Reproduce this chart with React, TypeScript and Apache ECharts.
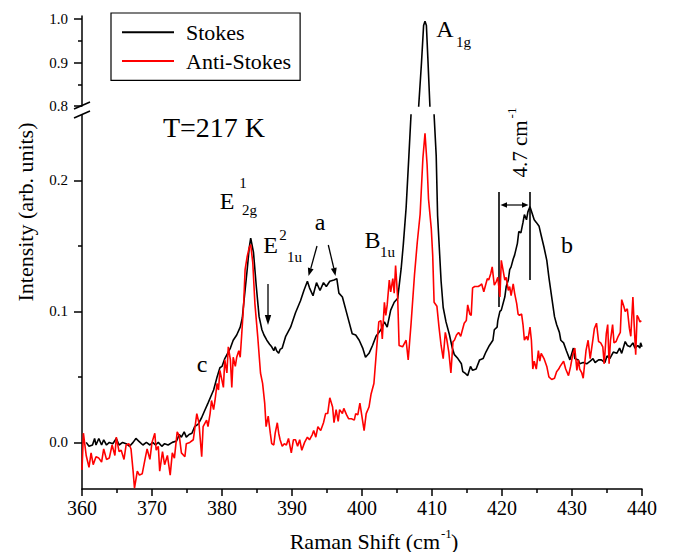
import React, { useEffect, useRef } from 'react';
import * as echarts from 'echarts';

const FONT = 'Liberation Serif, Times New Roman, serif';

const stokes: [number, number][] = [
  [360.6,0.000],[361.0,-0.003],[361.5,-0.002],[361.8,0.003],[362.0,-0.002],[362.4,0.003],[362.8,-0.002],[363.1,0.002],[363.5,-0.002],[363.9,0.000],
  [364.4,-0.001],[364.9,0.003],[365.3,-0.002],[365.8,0.000],[366.3,-0.001],[366.8,-0.003],[367.3,0.000],[367.7,0.003],[368.1,0.001],[368.7,-0.002],
  [369.2,0.000],[369.7,-0.002],[370.1,0.000],[370.5,-0.002],[370.9,0.000],[371.4,-0.003],[371.8,-0.001],[372.3,-0.002],[372.9,0.000],[373.5,0.001],
  [373.9,0.006],[374.2,0.004],[374.6,0.008],[374.9,0.004],[375.3,0.006],[375.7,0.007],[376.1,0.012],[376.6,0.014],[377.1,0.019],[377.5,0.024],
  [378.0,0.030],[378.4,0.035],[378.8,0.040],[379.3,0.050],[379.7,0.057],[380.0,0.058],[380.4,0.064],[380.8,0.068],[381.2,0.072],[381.6,0.078],
  [382.1,0.082],[382.6,0.088],[382.9,0.095],[383.1,0.106],[383.6,0.132],[383.9,0.149],[384.1,0.156],[384.5,0.145],[384.9,0.119],[385.3,0.096],
  [385.7,0.086],[386.0,0.082],[386.4,0.078],[386.8,0.075],[387.1,0.073],[387.4,0.070],[387.6,0.073],[387.8,0.070],[388.1,0.068],[388.3,0.071],
  [388.6,0.072],[389.1,0.081],[389.8,0.088],[390.5,0.099],[391.2,0.108],[391.7,0.116],[392.2,0.123],[392.5,0.118],[393.0,0.112],[393.5,0.122],
  [394.0,0.116],[394.5,0.122],[394.9,0.119],[395.4,0.123],[396.0,0.124],[396.4,0.125],[396.7,0.114],[397.2,0.111],[397.7,0.101],[398.1,0.093],
  [398.6,0.083],[399.1,0.082],[399.6,0.078],[400.1,0.072],[400.5,0.065],[401.0,0.068],[401.5,0.074],[402.0,0.081],[402.7,0.086],[403.2,0.092],
  [403.6,0.088],[404.1,0.101],[404.6,0.107],[405.1,0.110],[405.6,0.133],[405.9,0.151],[406.3,0.179],[406.7,0.219],[407.0,0.250],[407.4,0.420],
  [407.8,0.650],[408.1,0.800],[408.5,0.900],[408.8,0.985],[409.0,0.995],[409.2,0.985],[409.4,0.913],[409.7,0.800],[410.0,0.550],[410.3,0.250],
  [410.6,0.219],[410.8,0.173],[411.3,0.123],[411.6,0.103],[412.0,0.092],[412.5,0.082],[412.9,0.072],[413.2,0.067],[413.7,0.064],[414.2,0.060],
  [414.4,0.054],[414.7,0.053],[415.1,0.051],[415.5,0.058],[415.8,0.055],[416.3,0.056],[416.8,0.063],[417.3,0.064],[417.7,0.069],[418.2,0.074],
  [418.7,0.078],[418.9,0.086],[419.3,0.088],[419.4,0.093],[419.7,0.100],[419.9,0.101],[420.1,0.105],[420.4,0.111],[420.6,0.119],[420.9,0.124],
  [421.1,0.132],[421.3,0.134],[421.6,0.140],[421.8,0.143],[422.2,0.152],[422.4,0.161],[422.7,0.160],[423.0,0.168],[423.2,0.174],[423.5,0.170],
  [423.7,0.176],[424.0,0.180],[424.3,0.175],[424.6,0.170],[424.9,0.168],[425.3,0.165],[425.6,0.158],[426.0,0.149],[426.4,0.139],[426.7,0.126],
  [427.1,0.111],[427.5,0.096],[427.8,0.090],[428.2,0.084],[428.4,0.078],[428.8,0.076],[429.2,0.070],[429.7,0.063],[430.2,0.072],[430.4,0.064],
  [430.9,0.063],[431.1,0.060],[431.6,0.061],[432.1,0.060],[432.6,0.062],[433.0,0.064],[433.3,0.061],[433.8,0.063],[434.2,0.063],[434.7,0.061],
  [435.0,0.066],[435.4,0.064],[435.9,0.069],[436.4,0.068],[436.8,0.072],[437.1,0.068],[437.6,0.077],[437.9,0.074],[438.3,0.073],[438.7,0.076],
  [439.0,0.072],[439.4,0.074],[439.7,0.072],[439.8,0.076],[440.0,0.073],
];

const antiStokes: [number, number][] = [
  [360.0,-0.021],[360.2,0.007],[360.6,-0.010],[361.0,-0.019],[361.3,-0.008],[361.6,-0.017],[362.0,-0.011],[362.4,-0.012],[362.8,-0.015],[363.1,-0.005],
  [363.5,-0.013],[363.9,-0.012],[364.3,-0.002],[364.7,-0.010],[364.9,0.004],[365.3,-0.007],[365.6,-0.006],[366.0,-0.013],[366.3,-0.002],[366.7,-0.001],
  [367.0,-0.005],[367.3,-0.022],[367.5,-0.035],[367.9,-0.022],[368.2,-0.025],[368.6,-0.024],[369.0,-0.013],[369.3,-0.005],[369.7,-0.013],[370.0,0.000],
  [370.4,0.007],[370.6,-0.006],[370.9,-0.003],[371.1,-0.022],[371.5,-0.007],[371.8,-0.017],[372.2,-0.010],[372.6,-0.025],[372.9,-0.008],[373.2,-0.012],
  [373.6,0.008],[373.9,0.005],[374.2,-0.008],[374.7,-0.011],[374.9,-0.001],[375.4,0.000],[375.9,0.002],[376.4,0.022],[376.7,0.015],[377.1,-0.011],
  [377.3,0.012],[377.8,0.017],[378.0,0.012],[378.3,0.022],[378.5,0.032],[378.8,0.025],[379.0,0.032],[379.3,0.045],[379.5,0.040],[379.7,0.055],
  [380.2,0.042],[380.4,0.063],[380.7,0.053],[380.9,0.073],[381.2,0.063],[381.4,0.042],[381.6,0.065],[381.9,0.058],[382.1,0.065],[382.4,0.070],
  [382.6,0.065],[382.8,0.081],[383.1,0.106],[383.3,0.132],[383.6,0.142],[383.9,0.149],[384.1,0.151],[384.4,0.137],[384.7,0.106],[385.1,0.081],
  [385.5,0.053],[385.8,0.045],[386.1,0.030],[386.3,0.012],[386.6,0.020],[386.9,0.007],[387.1,-0.001],[387.4,-0.002],[387.6,0.007],[387.9,0.015],
  [388.1,0.007],[388.3,0.002],[388.6,-0.003],[388.9,-0.001],[389.2,-0.002],[389.5,0.003],[389.9,-0.008],[390.2,0.002],[390.5,0.002],[390.8,-0.003],
  [391.1,0.002],[391.4,-0.006],[391.8,0.000],[392.2,0.004],[392.5,0.002],[392.9,0.006],[393.1,0.009],[393.4,0.004],[393.7,0.012],[394.1,0.009],
  [394.5,0.015],[394.8,0.022],[395.1,0.022],[395.4,0.034],[395.8,0.027],[396.0,0.015],[396.3,0.025],[396.6,0.016],[396.8,0.025],[397.2,0.022],
  [397.4,0.026],[397.8,0.021],[398.1,0.018],[398.5,0.018],[398.9,0.017],[399.1,0.022],[399.4,0.021],[399.7,0.030],[400.1,0.016],[400.3,0.009],
  [400.6,0.022],[401.0,0.027],[401.3,0.037],[401.7,0.045],[402.2,0.079],[402.4,0.092],[402.7,0.093],[402.9,0.079],[403.2,0.107],[403.4,0.097],
  [403.6,0.105],[403.9,0.124],[404.1,0.115],[404.4,0.125],[404.6,0.114],[404.8,0.135],[405.1,0.110],[405.3,0.074],[405.8,0.073],[406.3,0.078],
  [406.6,0.063],[407.0,0.090],[407.5,0.128],[407.9,0.153],[408.3,0.174],[408.7,0.217],[409.0,0.236],[409.3,0.212],[409.5,0.186],[409.9,0.163],
  [410.1,0.143],[410.3,0.107],[410.7,0.104],[411.0,0.088],[411.3,0.074],[411.6,0.064],[411.9,0.084],[412.1,0.079],[412.4,0.069],[412.7,0.053],
  [413.0,0.077],[413.2,0.078],[413.5,0.082],[413.8,0.084],[414.1,0.081],[414.4,0.087],[414.6,0.091],[414.9,0.093],[415.1,0.105],[415.4,0.098],
  [415.6,0.097],[415.8,0.118],[416.1,0.119],[416.6,0.119],[416.9,0.120],[417.1,0.121],[417.4,0.115],[417.6,0.119],[417.9,0.125],[418.1,0.124],
  [418.4,0.129],[418.6,0.134],[418.9,0.120],[419.2,0.123],[419.4,0.126],[419.7,0.111],[419.9,0.139],[420.1,0.133],[420.4,0.124],[420.6,0.126],
  [420.9,0.116],[421.1,0.119],[421.3,0.112],[421.6,0.121],[421.8,0.114],[422.1,0.106],[422.3,0.098],[422.5,0.097],[422.8,0.098],[423.0,0.090],
  [423.2,0.078],[423.5,0.081],[423.7,0.078],[424.0,0.088],[424.2,0.078],[424.4,0.056],[424.6,0.062],[424.9,0.056],[425.2,0.070],[425.4,0.062],
  [425.6,0.068],[426.0,0.064],[426.4,0.058],[426.7,0.050],[427.1,0.048],[427.5,0.049],[427.8,0.054],[428.1,0.056],[428.3,0.058],[428.8,0.062],
  [429.1,0.056],[429.5,0.051],[429.8,0.058],[430.1,0.067],[430.4,0.072],[430.7,0.055],[430.9,0.063],[431.1,0.056],[431.4,0.053],[431.6,0.049],
  [432.0,0.070],[432.3,0.078],[432.6,0.064],[433.0,0.079],[433.2,0.087],[433.5,0.091],[433.8,0.077],[434.1,0.076],[434.4,0.073],[434.6,0.060],
  [434.9,0.083],[435.1,0.090],[435.3,0.060],[435.5,0.078],[435.8,0.090],[436.0,0.076],[436.3,0.077],[436.6,0.081],[436.9,0.084],[437.1,0.109],
  [437.4,0.104],[437.6,0.100],[437.9,0.102],[438.2,0.087],[438.4,0.081],[438.7,0.111],[438.9,0.088],[439.1,0.067],[439.3,0.097],[439.5,0.095],
  [439.7,0.092],[439.9,0.093],
];

const lowerMajor = [0, 0.1, 0.2];
const lowerMinor = [0.05, 0.15];
const upperMajor = [0.8, 0.9, 1.0];
const upperMinor = [0.85, 0.95];
const seriesNames = ['Stokes', 'Anti-Stokes'];

const BLACK = '#000000';
const RED = '#ff0000';

function txt(text: string, x: number, y: number, size: number, extra: any = {}, rotation = 0) {
  return {
    type: 'text',
    x,
    y,
    rotation,
    silent: true,
    style: {
      text,
      fill: BLACK,
      fontFamily: FONT,
      fontSize: size,
      align: 'center',
      verticalAlign: 'middle',
      ...extra,
    },
  };
}

function seg(x1: number, y1: number, x2: number, y2: number, w = 1.5) {
  return { type: 'line', silent: true, shape: { x1, y1, x2, y2 }, style: { stroke: BLACK, lineWidth: w } };
}

function head(points: number[][]) {
  return { type: 'polygon', silent: true, shape: { points }, style: { fill: BLACK } };
}

export default function App() {
  const ref = useRef<HTMLDivElement>(null);
  useEffect(() => {
    const chart = echarts.init(ref.current!, null, { renderer: 'svg' });
    const axisLine = { show: true, onZero: false, lineStyle: { color: BLACK, width: 1.5 } };
    const yLabel = { fontFamily: FONT, fontSize: 15, color: BLACK, margin: 14 };
    const fmt = (v: number) => v.toFixed(1);

    const option: any = {
      animation: false,
      backgroundColor: '#ffffff',
      textStyle: { fontFamily: FONT },
      grid: [
        { left: 82, right: 32, top: 115, bottom: 63 },
        { left: 82, right: 32, top: 16, height: 90 },
      ],
      xAxis: [
        {
          type: 'value', gridIndex: 0, min: 360, max: 440, interval: 10,
          axisLine,
          axisTick: { show: true, length: 7, lineStyle: { color: BLACK, width: 1.5 } },
          minorTick: { show: true, splitNumber: 2, length: 4, lineStyle: { color: BLACK, width: 1.5 } },
          axisLabel: { fontFamily: FONT, fontSize: 20, color: BLACK, margin: 9 },
          splitLine: { show: false },
          minorSplitLine: { show: false },
        },
        { type: 'value', gridIndex: 1, min: 360, max: 440, show: false },
      ],
      yAxis: [
        {
          type: 'value', gridIndex: 0, position: 'left', min: -0.0356, max: 0.25,
          axisLine,
          axisTick: { show: true, length: 8, customValues: lowerMajor, lineStyle: { color: BLACK, width: 1.5 } },
          axisLabel: { ...yLabel, customValues: lowerMajor, formatter: fmt },
          splitLine: { show: false },
        },
        {
          type: 'value', gridIndex: 0, position: 'left', offset: 0, min: -0.0356, max: 0.25,
          axisLine: { show: false },
          axisTick: { show: true, length: 4, customValues: lowerMinor, lineStyle: { color: BLACK, width: 1.5 } },
          axisLabel: { show: false },
          splitLine: { show: false },
        },
        {
          type: 'value', gridIndex: 1, position: 'left', min: 0.8, max: 1.007,
          axisLine,
          axisTick: { show: true, length: 8, customValues: upperMajor, lineStyle: { color: BLACK, width: 1.5 } },
          axisLabel: { ...yLabel, customValues: upperMajor, formatter: fmt },
          splitLine: { show: false },
        },
        {
          type: 'value', gridIndex: 1, position: 'left', offset: 0, min: 0.8, max: 1.007,
          axisLine: { show: false },
          axisTick: { show: true, length: 4, customValues: upperMinor, lineStyle: { color: BLACK, width: 1.5 } },
          axisLabel: { show: false },
          splitLine: { show: false },
        },
      ],
      legend: {
        data: seriesNames,
        orient: 'vertical',
        left: 111,
        top: 13,
        icon: 'rect',
        itemWidth: 52,
        itemHeight: 2,
        itemGap: 0,
        padding: [5, 9, 5, 11],
        borderColor: BLACK,
        borderWidth: 1.2,
        selectedMode: false,
        textStyle: { fontFamily: FONT, fontSize: 22, color: BLACK, lineHeight: 28.7, padding: [0, 0, 0, 7] },
      },
      series: [
        {
          name: seriesNames[0], type: 'line', xAxisIndex: 0, yAxisIndex: 0, data: stokes,
          showSymbol: false, color: BLACK, lineStyle: { color: BLACK, width: 1.6 }, clip: true,
        },
        {
          name: seriesNames[1], type: 'line', xAxisIndex: 0, yAxisIndex: 0, data: antiStokes,
          showSymbol: false, color: RED, lineStyle: { color: RED, width: 1.6 }, clip: true,
        },
        {
          name: seriesNames[0], type: 'line', xAxisIndex: 1, yAxisIndex: 2, data: stokes,
          showSymbol: false, color: BLACK, lineStyle: { color: BLACK, width: 1.6 }, clip: true,
        },
      ],
      graphic: [
        seg(74, 109, 90, 102, 1.6),
        seg(74, 118, 90, 111, 1.6),
        txt('Intensity (arb. units)', 25, 212, 22, {}, Math.PI / 2),
        txt('Raman Shift (cm', 440, 541, 22, { align: 'right' }),
        txt('-1', 441, 533, 13, { align: 'left' }),
        txt(')', 451, 541, 22, { align: 'left' }),
        txt('T=217 K', 214, 127, 28),
        txt('E', 227, 201, 24),
        txt('1', 243, 183, 15),
        txt('2g', 242, 210, 15, { align: 'left' }),
        txt('E', 270.5, 244.5, 24),
        txt('2', 283, 235, 15),
        txt('1u', 287, 257, 15, { align: 'left' }),
        seg(268, 284, 268, 318, 1.3),
        head([[264.8, 315], [271.2, 315], [268, 325]]),
        txt('a', 320, 221.5, 24),
        seg(317, 246, 310.8, 268.3, 1.3),
        head([[308.5, 276], [313.6, 269.2], [307.9, 267.5]]),
        seg(328.3, 245, 333.8, 268.2, 1.3),
        head([[335.5, 276], [336.7, 267.6], [330.9, 268.8]]),
        txt('B', 372.5, 239.5, 24),
        txt('1u', 380, 252, 15, { align: 'left' }),
        txt('A', 445, 29, 24),
        txt('1g', 456, 42, 15, { align: 'left' }),
        seg(499, 192, 499, 307, 1.6),
        seg(530, 192, 530, 280, 1.6),
        seg(504, 205, 525, 205, 1.2),
        head([[500.5, 205], [507, 202.3], [507, 207.7]]),
        head([[528.5, 205], [522, 202.3], [522, 207.7]]),
        txt('4.7 cm', 520, 149, 21, {}, Math.PI / 2),
        txt('-1', 511, 113, 13, {}, Math.PI / 2),
        txt('b', 567, 245, 24),
        txt('c', 202, 363.5, 24),
      ],
    };

    chart.setOption(option);
    return () => chart.dispose();
  }, []);

  return (
    <div
      ref={ref}
      style={{ position: 'fixed', left: 0, top: 0, width: 674, height: 552, background: '#fff' }}
    />
  );
}
